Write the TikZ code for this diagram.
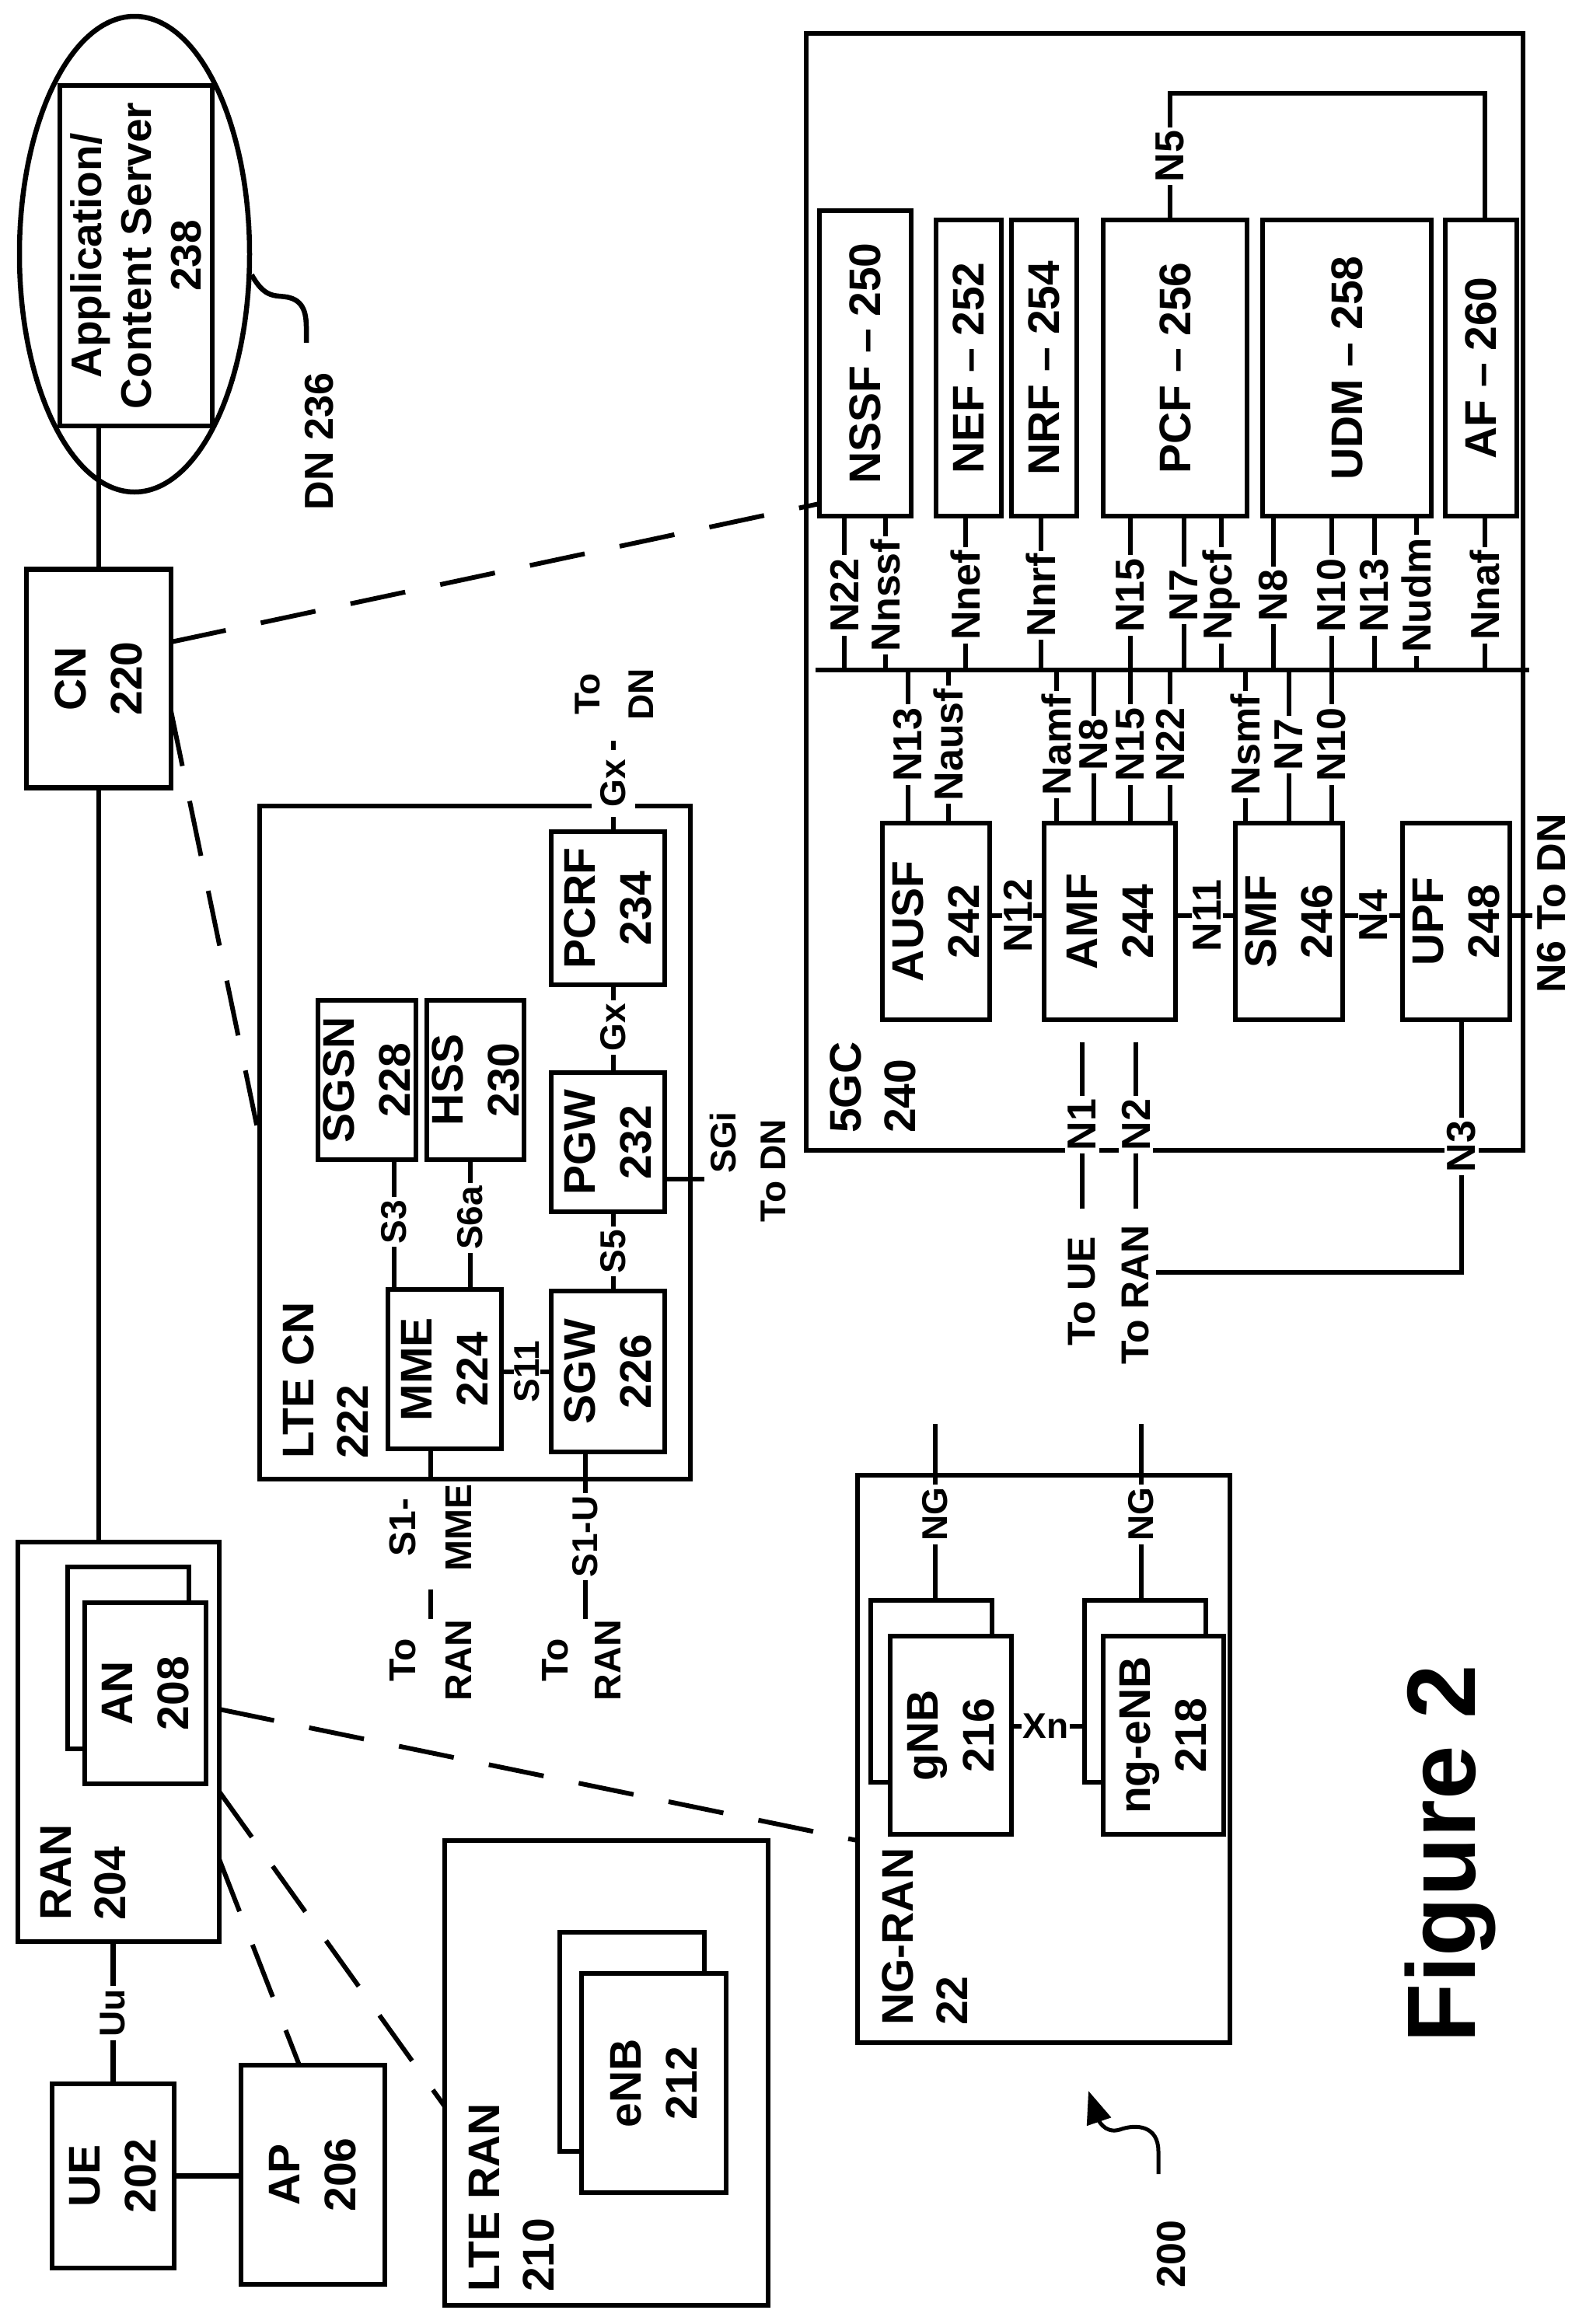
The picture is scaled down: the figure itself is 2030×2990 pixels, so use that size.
\documentclass[tikz,border=0pt]{standalone}
\usepackage{fontspec}
\setmainfont{Liberation Sans}
\usetikzlibrary{shapes.geometric,arrows.meta}
\newcommand{\nbox}[6]{\node[box,minimum width=#4pt,minimum height=#5pt] (#1) at (#2,#3) {};\node[txt] (#1t) at (#1) {#6};}
\newcommand{\ebox}[5]{\node[box,minimum width=#4pt,minimum height=#5pt] (#1) at (#2,#3) {};}
\newcommand{\ifl}[6]{\draw (#2,0 |- #1.#3) -- (#2,#4); \node[lab] (#1#6) at (#2,#5) {#6};}
\begin{document}
\begin{tikzpicture}[x=1pt,y=-1pt,line width=6.5pt,
  box/.style={draw,line width=6.5pt,inner sep=0pt,outer sep=0pt,fill=white},
  cont/.style={draw,line width=6.5pt,inner sep=0pt,outer sep=0pt},
  txt/.style={rotate=90,align=center,inner sep=0pt,font=\fontsize{57}{72}\selectfont\bfseries},
  big/.style={rotate=90,align=left,inner sep=0pt,anchor=west,font=\fontsize{57}{70}\selectfont\bfseries},
  lab/.style={rotate=90,fill=white,inner sep=4pt,font=\fontsize{52}{60}\selectfont\bfseries},
  slab/.style={rotate=90,fill=white,inner sep=4pt,font=\fontsize{46}{54}\selectfont\bfseries},
  plain/.style={rotate=90,align=center,inner sep=0pt,font=\fontsize{50}{70}\selectfont\bfseries},
  dsh/.style={line width=6pt,dash pattern=on 72pt off 46pt}]
\useasboundingbox (0,0) rectangle (2030,2990);

% ---------- DN / CN / RAN column
\node[draw,ellipse,line width=6.5pt,minimum width=296pt,minimum height=612pt,inner sep=0pt] (dn) at (173,327) {};
\node[box,minimum width=196pt,minimum height=438pt] (app) at (175,329) {};
\node[txt,font=\fontsize{55}{64}\selectfont\bfseries] (appt) at (app) {Application/\\Content Server\\238};
\node[plain,font=\fontsize{52}{60}\selectfont\bfseries] (dnl) at (411,568) {DN 236};
\coordinate (dnq) at (394,441);
\draw (dn.-10) .. controls (345,392) and (360,375) .. (380,386) .. controls (396,396) and (394,415) .. (dnq);
\nbox{cn}{127}{873}{186}{281}{CN\\220}
\node[box,minimum width=259pt,minimum height=514pt] (ran) at (152.5,2241) {};
\node[big] (ranl) at (107.5,2474) {RAN\\204};
\ebox{anb}{165}{2133}{156}{234}
\nbox{anf}{187}{2178.5}{156}{233}{AN\\208}
\draw (cn.north) -- (cn.north |- app.south);
\draw (cn.south) -- (cn.south |- ran.north);
\nbox{ue}{145.5}{2799.5}{157}{237}{UE\\202}
\nbox{ap}{402.5}{2798}{185}{282}{AP\\206}
\draw (ue.east) -- (ue.east -| ap.west);
\draw (ue.north) -- (ue.north |- ran.south);
\node[slab] (uu) at (145,2590) {Uu};

% ---------- LTE RAN
\node[cont,minimum width=416pt,minimum height=598pt] (lran) at (780,2667) {};
\node[big] (lranl) at (658,2952) {LTE RAN\\210};
\ebox{enbb}{813}{2627}{186}{282}
\nbox{enbf}{841}{2680}{186}{282}{eNB\\212}

% ---------- LTE CN
\node[cont,minimum width=554pt,minimum height=866pt] (lcn) at (611,1470) {};
\node[big] (lcnl) at (419,1880) {LTE CN\\222};
\nbox{sgsn}{472}{1389.5}{126}{205}{SGSN\\228}
\nbox{hss}{611.5}{1389.5}{125}{205}{HSS\\230}
\nbox{pcrf}{782}{1168.5}{146}{197}{PCRF\\234}
\nbox{pgw}{782}{1469.5}{146}{179}{PGW\\232}
\nbox{mme}{572}{1761.5}{146}{205}{MME\\224}
\nbox{sgw}{782}{1764.5}{146}{207}{SGW\\226}
\draw (507,0 |- sgsn.south) -- (507,0 |- mme.north);
\node[slab] (s3) at (507,1572) {S3};
\draw (605,0 |- hss.south) -- (605,0 |- mme.north);
\node[slab] (s6a) at (605,1567) {S6a};
\draw (mme.east |- 0,1765) -- (sgw.west |- 0,1765);
\node[slab,inner sep=1pt] (s11) at (678,1765) {S11};
\draw (789,0 |- sgw.north) -- (789,0 |- pgw.south);
\node[slab] (s5) at (789,1610) {S5};
\draw (789,0 |- pgw.north) -- (789,0 |- pcrf.south);
\node[slab] (gx1) at (789,1322) {Gx};
\coordinate (gxe) at (789,953);
\draw (789,0 |- pcrf.north) -- (gxe);
\node[slab,inner sep=12pt] (gx2) at (789,1008) {Gx};
\node[plain,font=\fontsize{46}{69}\selectfont\bfseries] (todn1) at (790,893) {To\\DN};
\coordinate (sgie) at (906,1517);
\draw (pgw.east |- sgie) -- (sgie);
\node[plain,font=\fontsize{46}{54}\selectfont\bfseries] (sgi) at (930,1470) {SGi};
\node[plain,font=\fontsize{46}{54}\selectfont\bfseries] (todn2) at (995,1506) {To DN};
\coordinate (s1m) at (554,1905);
\draw (554,0 |- mme.south) -- (s1m);
\node[plain,font=\fontsize{48}{72}\selectfont\bfseries] (s1ml) at (554,1965) {S1-\\MME};
\coordinate (d1a) at (554,2045); \coordinate (d1b) at (554,2083);
\draw (d1a) -- (d1b);
\node[plain,font=\fontsize{48}{72}\selectfont\bfseries] (toran1) at (554,2136) {To\\RAN};
\coordinate (s1u) at (753,2083);
\draw (753,0 |- sgw.south) -- (s1u);
\node[slab] (s1ul) at (753,1977) {S1-U};
\node[plain,font=\fontsize{48}{68}\selectfont\bfseries] (toran2) at (748,2136) {To\\RAN};

% ---------- NG-RAN
\node[cont,minimum width=479pt,minimum height=730pt] (ngran) at (1342.5,2263) {};
\node[big] (ngranl) at (1189.5,2609) {NG-RAN\\22};
\ebox{gnbb}{1198}{2176}{156}{234}
\nbox{gnbf}{1223}{2232.5}{156}{255}{gNB\\216}
\ebox{ngeb}{1473}{2176}{156}{234}
\nbox{ngef}{1496.5}{2232.5}{155}{255}{ng-eNB\\218}
\draw (gnbf.east |- 0,2221) -- (ngeb.west |- 0,2221);
\node[fill=white,inner sep=2pt,font=\fontsize{46}{54}\selectfont\bfseries] (xn) at (1345,2221) {Xn};
\coordinate (ng1) at (1203,1832); \coordinate (ng2) at (1468,1832);
\draw (1203,0 |- gnbb.north) -- (ng1);
\draw (1468,0 |- ngeb.north) -- (ng2);
\node[slab] (ngl1) at (1203,1948) {NG};
\node[slab] (ngl2) at (1468,1948) {NG};

% ---------- 5GC
\node[cont,minimum width=922pt,minimum height=1437pt] (fgc) at (1498,761.5) {};
\node[big] (fgcl) at (1123,1461) {5GC\\240};
\coordinate (busL) at (1049,862); \coordinate (busR) at (1967,862);
\draw (busL) -- (busR);
\nbox{nssf}{1113}{467.5}{118}{393}{NSSF -- 250}
\nbox{nef}{1246}{473.5}{84}{381}{NEF -- 252}
\nbox{nrf}{1343}{473.5}{84}{381}{NRF -- 254}
\nbox{pcf}{1511.5}{473.5}{185}{381}{PCF -- 256}
\nbox{udm}{1732.5}{473.5}{217}{381}{UDM -- 258}
\nbox{af}{1905}{473.5}{92}{381}{AF -- 260}
\nbox{ausf}{1204}{1185.5}{138}{253}{AUSF\\242}
\nbox{amf}{1427.5}{1185.5}{169}{253}{AMF\\244}
\nbox{smf}{1658}{1185.5}{138}{253}{SMF\\246}
\nbox{upf}{1873}{1185.5}{138}{253}{UPF\\248}
\ifl{nssf}{1086}{south}{862}{766}{N22}
\ifl{nssf}{1139}{south}{862}{766}{Nnssf}
\ifl{nef}{1242}{south}{862}{766}{Nnef}
\ifl{nrf}{1339}{south}{862}{766}{Nnrf}
\ifl{pcf}{1454}{south}{862}{766}{N15}
\ifl{pcf}{1523}{south}{862}{766}{N7}
\ifl{pcf}{1571}{south}{862}{766}{Npcf}
\ifl{udm}{1638}{south}{862}{766}{N8}
\ifl{udm}{1713}{south}{862}{766}{N10}
\ifl{udm}{1768}{south}{862}{766}{N13}
\ifl{udm}{1822}{south}{862}{766}{Nudm}
\ifl{af}{1910}{south}{862}{766}{Nnaf}
\ifl{ausf}{1168}{north}{862}{958}{N13}
\ifl{ausf}{1220}{north}{862}{958}{Nausf}
\ifl{amf}{1359}{north}{862}{958}{Namf}
\ifl{amf}{1407}{north}{862}{958}{N8}
\ifl{amf}{1454}{north}{862}{958}{N15}
\ifl{amf}{1505}{north}{862}{958}{N22}
\ifl{smf}{1602}{north}{862}{958}{Nsmf}
\ifl{smf}{1658}{north}{862}{958}{N7}
\ifl{smf}{1713}{north}{862}{958}{N10}
\draw (1505,0 |- pcf.north) -- (1505,120) -- (1910,120) -- (1910,0 |- af.north);
\node[lab] (n5) at (1505,201) {N5};
\draw (ausf.east |- 0,1178) -- (amf.west |- 0,1178);
\node[lab,inner sep=2pt] (n12) at (1309,1178) {N12};
\draw (amf.east |- 0,1178) -- (smf.west |- 0,1178);
\node[lab,inner sep=2pt] (n11) at (1553,1178) {N11};
\draw (smf.east |- 0,1178) -- (upf.west |- 0,1178);
\node[lab,inner sep=2pt] (n4) at (1767,1178) {N4};
\coordinate (n6e) at (1971,1178);
\draw (upf.east |- n6e) -- (n6e);
\node[plain,font=\fontsize{52}{60}\selectfont\bfseries] (n6) at (1996,1162) {N6 To DN};
\coordinate (n1a) at (1392,1341); \coordinate (n1b) at (1392,1555);
\coordinate (n2a) at (1461,1341); \coordinate (n2b) at (1461,1555);
\draw (n1a) -- (n1b); \draw (n2a) -- (n2b);
\node[lab] (n1) at (1392,1447) {N1};
\node[lab] (n2) at (1461,1447) {N2};
\coordinate (n3e) at (1487,1637);
\draw (1880,0 |- upf.south) -- (1880,1637) -- (n3e);
\node[lab] (n3) at (1880,1475) {N3};
\node[plain] (toue) at (1392,1661) {To UE};
\node[plain] (toran3) at (1461,1666) {To RAN};

% ---------- dashed links
\draw[dsh] (cn.east |- 0,826) -- (nssf.west |- 0,648);
\draw[dsh] (cn.east |- 0,915) -- (lcn.west |- 0,1466);
\draw[dsh] (ran.east |- 0,2199) -- (ngran.west |- 0,2368);
\draw[dsh] (ran.east |- 0,2305) -- (lran.west |- 0,2710);
\draw[dsh] (ran.east |- 0,2392) -- (385,0 |- ap.north);

% ---------- figure label
\coordinate (arS) at (1490,2797);
\node[plain,font=\fontsize{52}{60}\selectfont\bfseries] (l200) at (1507,2900) {200};
\draw[-{Triangle[length=42pt,width=32pt]},line width=5pt] (arS) -- (1490,2768) .. controls (1490,2735) and (1462,2732) .. (1440,2740) .. controls (1420,2746) and (1412,2725) .. (1400,2690);
\node[rotate=90,inner sep=0pt,font=\fontsize{125}{150}\selectfont\bfseries] (fig) at (1865,2385) {Figure 2};
\end{tikzpicture}
\end{document}
